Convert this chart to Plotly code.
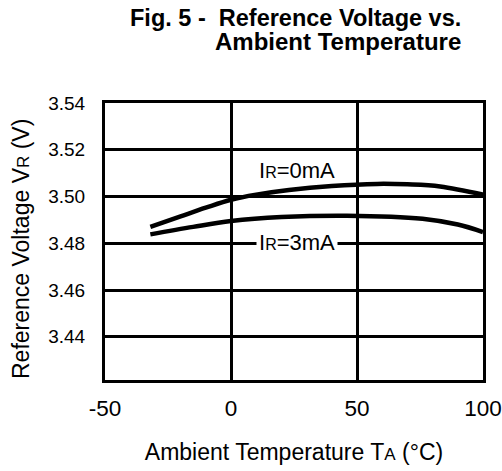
import plotly.graph_objects as go

# Data
temp_0mA = [-32, -20, -10, 0, 10, 23, 40, 58, 70, 83, 100]
vr_0mA = [3.4870, 3.4915, 3.4952, 3.4986, 3.5008, 3.5028, 3.5045, 3.5054, 3.5052, 3.5043, 3.5008]
temp_3mA = [-32, -15, 0, 20, 46, 76, 90, 100]
vr_3mA = [3.4838, 3.4870, 3.4895, 3.4912, 3.4918, 3.4905, 3.4880, 3.4848]
x_ticks = [-50, 0, 50, 100]
x_tick_labels = ["-50", "0", "50", "100"]
y_ticks = [3.44, 3.46, 3.48, 3.50, 3.52, 3.54]
y_tick_labels = ["3.44", "3.46", "3.48", "3.50", "3.52", "3.54"]

FONT = "Liberation Sans, Arial, sans-serif"
L, R, T, B = 105, 19, 103, 91
PW, PH = 502 - L - R, 471 - T - B


def small(s, px):
    return "<span style='font-size:%dpx'>%s</span>" % (px, s)


def px_x(x):
    return (x - L) / PW


def px_y(y):
    return 1 - (y - T) / PH


fig = go.Figure()
fig.add_trace(go.Scatter(x=temp_0mA, y=vr_0mA, mode="lines",
                         line=dict(color="black", width=4.5, shape="spline"), showlegend=False))
fig.add_trace(go.Scatter(x=temp_3mA, y=vr_3mA, mode="lines",
                         line=dict(color="black", width=4.5, shape="spline"), showlegend=False))

fig.add_annotation(x=26, y=3.511, text="I" + small("R", 16) + "=0mA", showarrow=False,
                   font=dict(family=FONT, size=22, color="black"))
fig.add_annotation(x=26, y=3.4804, text="I" + small("R", 16) + "=3mA", showarrow=False,
                   font=dict(family=FONT, size=22, color="black"), bgcolor="white", borderpad=2)

# Title, two right-aligned lines
fig.add_annotation(xref="paper", yref="paper", x=px_x(463), y=px_y(18),
                   xanchor="right", yanchor="middle", showarrow=False,
                   text="<b>Fig. 5 -  Reference Voltage vs.</b>",
                   font=dict(family=FONT, size=23.5, color="black"))
fig.add_annotation(xref="paper", yref="paper", x=px_x(463), y=px_y(42),
                   xanchor="right", yanchor="middle", showarrow=False,
                   text="<b>Ambient Temperature</b>",
                   font=dict(family=FONT, size=24, color="black"))

# Y axis title
fig.add_annotation(xref="paper", yref="paper", x=px_x(21), y=px_y(249),
                   xanchor="center", yanchor="middle", showarrow=False, textangle=-90,
                   text="Reference Voltage V" + small("R", 17) + " (V)",
                   font=dict(family=FONT, size=23, color="black"))

fig.update_layout(
    width=502, height=471,
    margin=dict(l=L, r=R, t=T, b=B),
    paper_bgcolor="white", plot_bgcolor="white",
    font=dict(family=FONT, size=18, color="black"),
    xaxis=dict(range=[-50, 100], tickvals=x_ticks, ticktext=x_tick_labels, ticks="",
               showgrid=True, gridcolor="black", gridwidth=3,
               showline=True, linecolor="black", linewidth=3, mirror=True, zeroline=False,
               automargin=False, ticklabelstandoff=6, ticklabeloverflow="allow",
               title=dict(text="Ambient Temperature T" + small("A", 17) + " (°C)", standoff=24,
                          font=dict(size=23)),
               tickfont=dict(size=22.5)),
    yaxis=dict(range=[3.4215, 3.54], tickvals=y_ticks, ticktext=y_tick_labels, ticks="",
               showgrid=True, gridcolor="black", gridwidth=3, showline=True, linecolor="black",
               linewidth=3, mirror=True, zeroline=False, automargin=False, ticklabelstandoff=13,
               tickfont=dict(size=19)),
)

fig.write_html("out.html", config={"displayModeBar": False},
               post_script="document.body.style.margin='0';document.body.style.padding='0';")
